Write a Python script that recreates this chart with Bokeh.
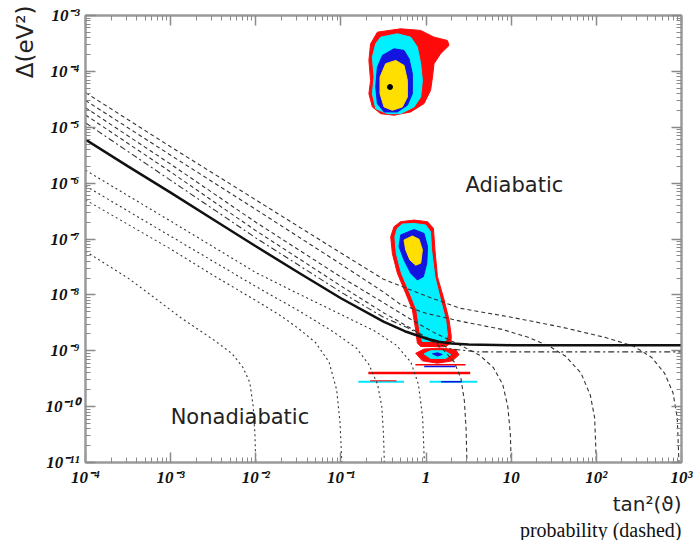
import numpy as np
from bokeh.plotting import figure
from bokeh.models import (LogAxis, FixedTicker, CustomJSTickFormatter, Title, Label, Range1d)
from bokeh.embed import file_html
from bokeh.resources import INLINE

# ---------------- tick labels ----------------
x_tick_values = [1e-4, 1e-3, 1e-2, 1e-1, 1, 10, 100, 1000]
x_tick_labels = ["10⁻⁴", "10⁻³", "10⁻²", "10⁻¹", "1", "10", "10²", "10³"]
y_tick_values = [1e-11, 1e-10, 1e-9, 1e-8, 1e-7, 1e-6, 1e-5, 1e-4, 1e-3]
y_tick_labels = ["10⁻¹¹", "10⁻¹⁰", "10⁻⁹", "10⁻⁸", "10⁻⁷", "10⁻⁶", "10⁻⁵", "10⁻⁴", "10⁻³"]

# ---------------- curves (log10 of tan^2, log10 of Delta) ----------------
solid_lx = [-4, -3.5, -3, -2.5, -2, -1.5, -1, -0.5, -0.25, 0, 0.15, 0.3, 0.5, 1, 2, 3]
solid_ly = [-5.22, -5.7, -6.17, -6.65, -7.13, -7.6, -8.06, -8.48, -8.65, -8.78, -8.84, -8.87, -8.89, -8.9, -8.9, -8.9]

a1_lx = [-4, -3, -2, -1, -0.5, 0, 0.4, 1.0, 1.6, 2.1, 2.44, 2.65, 2.8, 2.9, 2.95, 2.97]
a1_ly = [-4.38, -5.35, -6.3, -7.25, -7.72, -8.02, -8.24, -8.4, -8.58, -8.76, -8.92, -9.12, -9.4, -9.75, -10.2, -11]
a2_lx = [-4, -3, -2, -1, -0.5, -0.3, 0, 0.4, 0.9, 1.2, 1.45, 1.64, 1.82, 1.93, 1.98, 2.0]
a2_ly = [-4.52, -5.5, -6.47, -7.45, -7.95, -8.17, -8.33, -8.47, -8.62, -8.76, -8.92, -9.1, -9.4, -9.8, -10.2, -11]
a3_lx = [-4, -3, -2, -1, -0.5, -0.2, 0.1, 0.4, 0.63, 0.79, 0.9, 0.96, 0.99, 1.0]
a3_ly = [-4.65, -5.66, -6.7, -7.68, -8.14, -8.42, -8.68, -8.9, -9.08, -9.3, -9.6, -10.0, -10.5, -11]
a4_lx = [-4, -3, -2, -1, -0.5, -0.2, 0.05, 0.2, 0.33, 0.41, 0.45, 0.47, 0.48]
a4_ly = [-4.78, -5.8, -6.85, -7.84, -8.32, -8.58, -8.8, -8.98, -9.2, -9.5, -9.9, -10.4, -11]
a5_lx = [-4, -3, -2, -1, -0.5, -0.2, 0.05, 0.3, 0.6, 1.5, 3]
a5_ly = [-4.92, -5.95, -6.98, -7.95, -8.4, -8.6, -8.82, -8.97, -9.02, -9.02, -9.02]

b1_lx = [-4, -3, -2, -1.5, -1, -0.6, -0.35, -0.18, -0.09, -0.04, -0.02]
b1_ly = [-5.77, -6.68, -7.6, -7.98, -8.35, -8.65, -8.9, -9.2, -9.6, -10.2, -11]
b2_lx = [-4, -3, -2, -1.5, -1.1, -0.82, -0.67, -0.57, -0.52, -0.5, -0.49]
b2_ly = [-6.05, -6.95, -7.85, -8.28, -8.65, -8.95, -9.25, -9.6, -10.0, -10.5, -11]
b3_lx = [-4, -3, -2.5, -2, -1.7, -1.5, -1.3, -1.14, -1.05, -1.01, -0.99]
b3_ly = [-6.3, -7.18, -7.65, -8.1, -8.38, -8.6, -8.85, -9.2, -9.7, -10.3, -11]
b4_lx = [-4, -3.5, -3.27, -2.88, -2.5, -2.28, -2.15, -2.07, -2.03, -2.01, -2.0]
b4_ly = [-7.22, -7.7, -7.96, -8.41, -8.8, -9.05, -9.3, -9.57, -10.0, -10.5, -11]

# ---------------- allowed regions (tan^2, Delta) ----------------
lma_red_x = [0.268, 0.503, 0.865, 1.24, 1.78, 1.86, 1.48, 1.24, 1.19, 1.13, 0.946, 0.66, 0.42, 0.293, 0.234, 0.213, 0.223, 0.213, 0.223]
lma_red_y = [5.04e-4, 5.78e-4, 5.4e-4, 4.1e-4, 3.58e-4, 2.91e-4, 2.07e-4, 1.37e-4, 7.92e-5, 4.58e-5, 2.65e-5, 1.88e-5, 1.64e-5, 1.75e-5, 2.31e-5, 3.99e-5, 6.9e-5, 1.57e-4, 3.12e-4]
lma_cyan_x = [0.293, 0.46, 0.66, 0.79, 0.865, 0.905, 0.865, 0.722, 0.503, 0.351, 0.256, 0.234, 0.245, 0.234, 0.256]
lma_cyan_y = [4.1e-4, 4.71e-4, 4.1e-4, 2.72e-4, 1.37e-4, 6.9e-5, 3.48e-5, 2.31e-5, 1.75e-5, 1.75e-5, 2.15e-5, 3.99e-5, 7.92e-5, 1.8e-4, 3.12e-4]
lma_blue_x = [0.307, 0.42, 0.551, 0.631, 0.69, 0.69, 0.603, 0.46, 0.321, 0.268, 0.256, 0.268]
lma_blue_y = [1.93e-4, 2.54e-4, 2.37e-4, 1.68e-4, 9.08e-5, 3.99e-5, 2.47e-5, 1.88e-5, 1.88e-5, 2.65e-5, 5.25e-5, 1.19e-4]
lma_yel_x = [0.335, 0.44, 0.551, 0.603, 0.603, 0.527, 0.402, 0.321, 0.288, 0.288]
lma_yel_y = [1.37e-4, 1.57e-4, 1.28e-4, 6.9e-5, 3.48e-5, 2.31e-5, 2.01e-5, 2.31e-5, 3.99e-5, 7.92e-5]
best_x = [0.377]
best_y = [5.25e-5]

low_red_x = [0.42, 0.503, 0.722, 1.04, 1.22, 1.27, 1.36, 1.63, 1.86, 1.98, 1.95, 1.70, 0.865, 0.79, 0.755, 0.69, 0.576, 0.46, 0.402, 0.384]
low_red_y = [1.66e-7, 2.04e-7, 2.18e-7, 2.04e-7, 1.55e-7, 6.4e-8, 2.12e-8, 8.1e-9, 3.6e-9, 1.8e-9, 1.37e-9, 1.19e-9, 1.19e-9, 1.37e-9, 2.37e-9, 5.4e-9, 1.07e-8, 2.44e-8, 5.5e-8, 1.1e-7]
low_cyan_x = [0.46, 0.527, 0.722, 0.99, 1.13, 1.16, 1.27, 1.48, 1.70, 1.78, 1.70, 0.905, 0.85, 0.776, 0.647, 0.513, 0.447, 0.43]
low_cyan_y = [1.55e-7, 1.85e-7, 1.9e-7, 1.78e-7, 1.35e-7, 6.4e-8, 2.12e-8, 8.1e-9, 3.6e-9, 1.9e-9, 1.5e-9, 1.47e-9, 2.1e-9, 5.4e-9, 1.07e-8, 2.44e-8, 5.5e-8, 1.1e-7]
low_blue_x = [0.503, 0.722, 0.946, 1.04, 1.02, 0.93, 0.79, 0.66, 0.551, 0.481]
low_blue_y = [1.18e-7, 1.48e-7, 1.26e-7, 7.3e-8, 3.7e-8, 2.12e-8, 1.85e-8, 2.44e-8, 4.2e-8, 7.3e-8]
low_yel_x = [0.551, 0.69, 0.826, 0.905, 0.865, 0.755, 0.647, 0.576]
low_yel_y = [9.6e-8, 1.13e-7, 9.9e-8, 6.4e-8, 3.7e-8, 3.4e-8, 4.2e-8, 6.4e-8]

sub_red_x = [0.755, 0.946, 1.48, 2.23, 2.44, 2.04, 1.36, 0.905]
sub_red_y = [9.0e-10, 1.07e-9, 1.12e-9, 1.04e-9, 8.5e-10, 6.6e-10, 6.0e-10, 6.6e-10]
sub_cyan_x = [0.946, 1.13, 1.63, 1.95, 1.70, 1.13]
sub_cyan_y = [8.8e-10, 1.0e-9, 1.0e-9, 8.5e-10, 7.3e-10, 7.3e-10]
sub_blue_x = [1.19, 1.36, 1.55, 1.36]
sub_blue_y = [8.8e-10, 9.2e-10, 8.6e-10, 8.0e-10]

bar_x0 = [0.21, 0.75, 0.95, 0.16, 0.22, 1.1, 1.5]
bar_x1 = [3.3, 2.9, 2.2, 0.55, 0.45, 4.0, 2.6]
bar_y = [4.0e-10, 5.6e-10, 5.2e-10, 2.8e-10, 2.9e-10, 2.8e-10, 2.8e-10]
bar_color = ["#ff0000", "#ff0000", "#1010e0", "#00e5ff", "#ff0000", "#00e5ff", "#1010e0"]
bar_width = [2.5, 1.5, 1.5, 2, 1, 2, 1.5]

caption_text = "probability (dashed)"

RED, CYAN, BLUE, YEL = "#ff0a0a", "#00f0ff", "#1414e0", "#ffdf00"

p = figure(width=694, height=540, x_axis_type="log", y_axis_type="log",
           x_range=Range1d(1e-4, 1e3), y_range=Range1d(1e-11, 1e-3),
           output_backend="svg", toolbar_location=None,
           min_border_left=85, min_border_right=13, min_border_top=15, min_border_bottom=77)
p.grid.visible = False
p.background_fill_color = "white"
p.border_fill_color = "white"
p.outline_line_color = "#9a9a9a"
p.outline_line_width = 2

x_minor = [k * 10.0 ** e for e in range(-4, 3) for k in range(2, 10)]
y_minor = [k * 10.0 ** e for e in range(-11, -3) for k in range(2, 10)]

def fmt(vals, labels):
    return CustomJSTickFormatter(args=dict(vals=vals, labels=labels), code="""
        let best = 0, bd = 1e9;
        for (let i = 0; i < vals.length; i++) {
            const d = Math.abs(Math.log10(vals[i]) - Math.log10(tick));
            if (d < bd) { bd = d; best = i; }
        }
        return labels[best];
    """)

blank_fmt = CustomJSTickFormatter(code="return '';")

def style_axis(ax):
    ax.axis_line_color = "#9a9a9a"
    ax.axis_line_width = 2
    ax.major_tick_in = 10
    ax.major_tick_out = 0
    ax.minor_tick_in = 5
    ax.minor_tick_out = 0
    ax.major_tick_line_color = "#8a8a8a"
    ax.minor_tick_line_color = "#8a8a8a"
    ax.major_tick_line_width = 1.5
    ax.minor_tick_line_width = 1
    ax.major_label_text_font = "Liberation Serif"
    ax.major_label_text_font_style = "bold italic"
    ax.major_label_text_font_size = "17px"
    ax.major_label_text_color = "#111111"
    ax.major_label_standoff = 5

xa = p.xaxis[0]
xa.ticker = FixedTicker(ticks=x_tick_values, minor_ticks=x_minor)
xa.formatter = fmt(x_tick_values, x_tick_labels)
style_axis(xa)
ya = p.yaxis[0]
ya.ticker = FixedTicker(ticks=y_tick_values, minor_ticks=y_minor)
ya.formatter = fmt(y_tick_values, y_tick_labels)
style_axis(ya)
ya.major_label_standoff = 6

top = LogAxis(ticker=FixedTicker(ticks=x_tick_values, minor_ticks=x_minor), formatter=blank_fmt)
style_axis(top)
top.major_label_standoff = 0
top.major_label_text_font_size = "2px"
p.add_layout(top, "above")
right = LogAxis(ticker=FixedTicker(ticks=y_tick_values, minor_ticks=y_minor), formatter=blank_fmt)
style_axis(right)
right.major_label_standoff = 0
right.major_label_text_font_size = "2px"
p.add_layout(right, "right")

# islands
for xs, ys, c in [(lma_red_x, lma_red_y, RED), (lma_cyan_x, lma_cyan_y, CYAN),
                  (lma_blue_x, lma_blue_y, BLUE), (lma_yel_x, lma_yel_y, YEL),
                  (low_red_x, low_red_y, RED), (low_cyan_x, low_cyan_y, CYAN),
                  (low_blue_x, low_blue_y, BLUE), (low_yel_x, low_yel_y, YEL),
                  (sub_red_x, sub_red_y, RED), (sub_cyan_x, sub_cyan_y, CYAN),
                  (sub_blue_x, sub_blue_y, BLUE)]:
    p.patch(xs, ys, fill_color=c, line_color=c, line_width=1)
p.scatter(best_x, best_y, size=5, color="black")
p.segment(x0=bar_x0, y0=bar_y, x1=bar_x1, y1=bar_y, line_color=bar_color, line_width=bar_width)

def pw(l):
    return (10.0 ** np.array(l)).tolist()

for lx, ly in [(a1_lx, a1_ly), (a2_lx, a2_ly), (a3_lx, a3_ly), (a4_lx, a4_ly)]:
    p.line(pw(lx), pw(ly), line_color="#333333", line_width=1.1, line_dash="4 3")
p.line(pw(a5_lx), pw(a5_ly), line_color="#333333", line_width=1.1, line_dash="6 3 2 3")
for lx, ly in [(b1_lx, b1_ly), (b2_lx, b2_ly), (b3_lx, b3_ly), (b4_lx, b4_ly)]:
    p.line(pw(lx), pw(ly), line_color="#333333", line_width=1.1, line_dash="2 3")
p.line(pw(solid_lx), pw(solid_ly), line_color="#111111", line_width=2.5)

p.add_layout(Label(x=2.9, y=9.1e-7, text="Adiabatic", text_font="DejaVu Sans",
                   text_font_size="21px", text_color="#222222", text_baseline="middle"))
p.add_layout(Label(x=1e-3, y=6.6e-11, text="Nonadiabatic", text_font="DejaVu Sans",
                   text_font_size="21px", text_color="#222222", text_baseline="middle"))

p.add_layout(Title(text="Δ(eV²)", align="right", offset=-10, text_font="DejaVu Sans", text_font_size="23px",
                   text_font_style="normal", text_color="#222222"), "left")
p.add_layout(Title(text="tan²(ϑ)", align="right", standoff=1, text_font="DejaVu Sans", text_font_size="20px",
                   text_font_style="normal", text_color="#222222"), "below")
p.add_layout(Title(text=caption_text, align="right", standoff=0, text_font="Liberation Serif",
                   text_font_size="20px", text_font_style="normal", text_color="#111111"), "below")

open("out.html", "w").write(file_html(p, INLINE))
